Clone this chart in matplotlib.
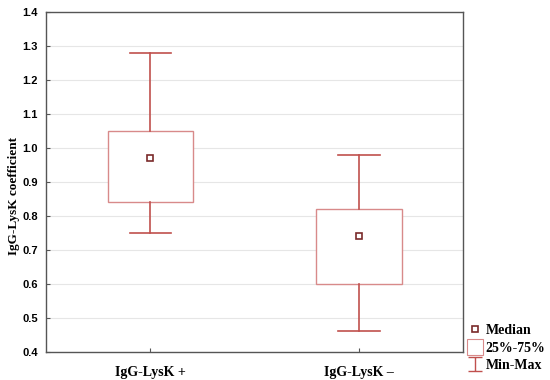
import numpy as np
import matplotlib.pyplot as plt
from matplotlib.lines import Line2D
from matplotlib.path import Path

# groups and summary values
groups = ['IgG-LysK +', 'IgG-LysK \u2013']
mins = [0.75, 0.46]
q1s = [0.84, 0.60]
medians = [0.97, 0.74]
q3s = [1.05, 0.82]
maxs = [1.28, 0.98]

box_col = '#d88a8a'
whisk_col = '#c0504d'
med_col = '#7a2a2a'
serif = 'Liberation Serif'
sans = 'Liberation Sans'

fig = plt.figure(figsize=(5.5, 3.8), dpi=100)
ax = fig.add_axes([0.084, 0.074, 0.758, 0.894])

stats = []
for i in range(len(groups)):
    stats.append({'med': medians[i], 'q1': q1s[i], 'q3': q3s[i],
                  'whislo': mins[i], 'whishi': maxs[i], 'fliers': []})

pos = np.arange(len(groups))
ax.bxp(stats, positions=pos, widths=0.41, capwidths=0.2, showfliers=False,
       patch_artist=True,
       boxprops=dict(facecolor='white', edgecolor=box_col, linewidth=1.0),
       whiskerprops=dict(color=whisk_col, linewidth=1.2),
       capprops=dict(color=whisk_col, linewidth=1.2),
       medianprops=dict(visible=False))
ax.plot(pos, medians, linestyle='none', marker='s', markersize=4,
        markerfacecolor='white', markeredgecolor=med_col, markeredgewidth=1.2)

ax.set_xlim(-0.5, 1.5)
ax.set_ylim(0.4, 1.4)
yt = np.arange(0.4, 1.41, 0.1)
ax.set_yticks(yt)
ax.set_yticklabels(['%.1f' % v for v in yt],
                   fontfamily=sans, fontweight='bold', fontsize=8)
ax.set_xticks(pos)
ax.set_xticklabels(groups, fontfamily=serif, fontweight='bold', fontsize=10)
ax.tick_params(axis='y', direction='in', length=3, color='#555555', pad=6)
ax.tick_params(axis='x', direction='in', length=3, color='#555555', pad=10)
ax.set_ylabel('IgG-LysK coefficient', fontfamily=serif, fontweight='bold',
              fontsize=9.5)
ax.yaxis.set_label_coords(-0.064, 0.46)
ax.yaxis.grid(True, color='#e6e6e6', linewidth=0.8)
ax.set_axisbelow(True)
for s in ax.spines.values():
    s.set_color('#555555')
    s.set_linewidth(1.0)

# min-max symbol
ibeam = Path([(-1, 1), (1, 1), (0, 1), (0, -1), (-1, -1), (1, -1)],
             [Path.MOVETO, Path.LINETO, Path.MOVETO, Path.LINETO,
              Path.MOVETO, Path.LINETO])
handles = [
    Line2D([], [], linestyle='none', marker='s', markersize=4,
           markerfacecolor='white', markeredgecolor=med_col, markeredgewidth=1.2),
    Line2D([], [], linestyle='none', marker='s', markersize=11,
           markerfacecolor='white', markeredgecolor=box_col, markeredgewidth=0.8),
    Line2D([], [], linestyle='none', marker=ibeam, markersize=10,
           markerfacecolor='none', markeredgecolor=whisk_col, markeredgewidth=1.0),
]
leg = fig.legend(handles, ['Median', '25%-75%', 'Min-Max'],
                 loc='lower left', bbox_to_anchor=(0.835, 0.0),
                 frameon=False, handlelength=1.0, handletextpad=0.3,
                 labelspacing=0.3, borderaxespad=0.2,
                 prop=dict(family=serif, weight='bold', size=10))

fig.savefig('out.png', dpi=100)
